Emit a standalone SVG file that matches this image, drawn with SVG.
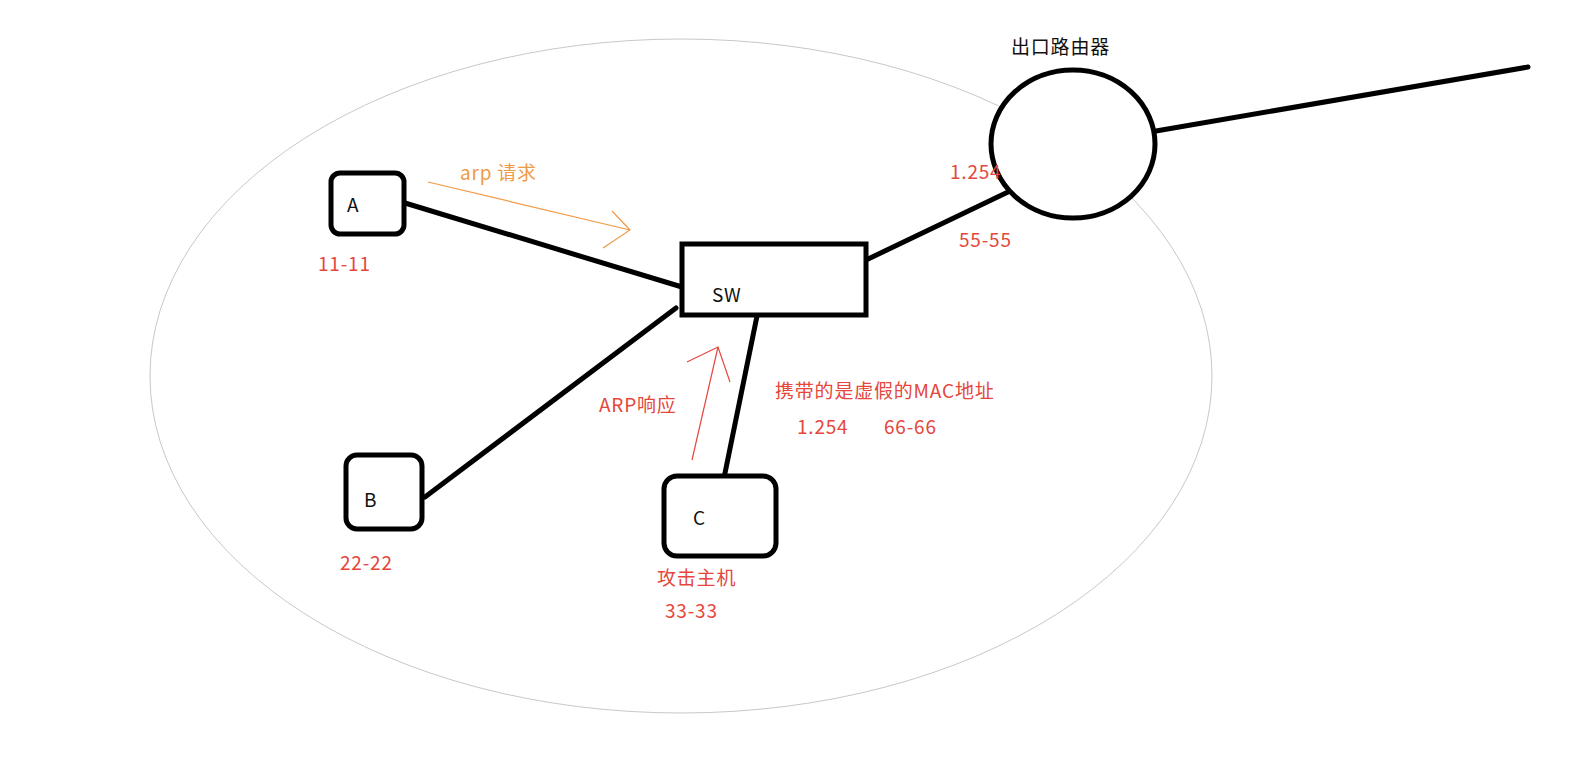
<svg xmlns="http://www.w3.org/2000/svg" width="1570" height="766" viewBox="0 0 1570 766">
<style>
text{font-family:"Noto Sans CJK SC","Liberation Sans",sans-serif;letter-spacing:0.8px}
.node{fill:#fff;stroke:#000;stroke-width:5}
.lbl{font-size:19px;fill:#111}
.red{font-size:19px;fill:#e5473c}
.org{font-size:19px;fill:#ef9a45}
.link{stroke:#000;stroke-width:5;stroke-linecap:round;fill:none}
</style>
<rect width="1570" height="766" fill="#fff"/>
<ellipse id="lan" cx="681" cy="376" rx="531" ry="337" fill="none" stroke="#c8c8c8" stroke-width="1"/>
<g id="connectors">
<line class="link" x1="405" y1="203" x2="682" y2="287"/>
<line class="link" x1="676" y1="308" x2="425" y2="497"/>
<line class="link" x1="757" y1="316" x2="724" y2="478"/>
<line class="link" x1="866" y1="260" x2="1008" y2="192"/>
<line class="link" x1="1156" y1="131" x2="1528" y2="67"/>
<g id="arp-request" stroke="#ef9a45" stroke-width="1.2" fill="none">
<line x1="428" y1="182" x2="630" y2="230"/>
<polyline points="612,211 630,230 603,248"/>
</g>
<g id="arp-reply" stroke="#e5473c" stroke-width="1.2" fill="none">
<line x1="692" y1="460" x2="718" y2="347"/>
<polyline points="687,362 718,347 730,382"/>
</g>
</g>
<g id="A">
<rect class="node" x="331" y="173" width="73" height="61" rx="9"/>
<text class="lbl" x="347" y="212">A</text>
<text class="red" x="318" y="271">11-11</text>
</g>
<g id="B">
<rect class="node" x="346" y="455" width="76" height="74" rx="11"/>
<text class="lbl" x="364" y="507">B</text>
<text class="red" x="340" y="570">22-22</text>
</g>
<g id="C">
<rect class="node" x="664" y="476" width="112" height="80" rx="13"/>
<text class="lbl" x="693" y="525">C</text>
<text class="red" x="657" y="585">攻击主机</text>
<text class="red" x="665" y="618">33-33</text>
</g>
<g id="SW">
<rect class="node" x="682" y="244" width="184" height="71"/>
<text class="lbl" x="712" y="302">SW</text>
</g>
<g id="router">
<ellipse class="node" cx="1073" cy="144" rx="82" ry="74"/>
<text class="lbl" x="1011" y="54">出口路由器</text>
<text class="red" x="950" y="179">1.254</text>
<text class="red" x="959" y="247">55-55</text>
</g>
<g id="labels">
<text class="org" x="460" y="180">arp 请求</text>
<text class="red" x="599" y="412">ARP响应</text>
<text class="red" x="775" y="398">携带的是虚假的MAC地址</text>
<text class="red" x="797" y="434">1.254</text>
<text class="red" x="884" y="434">66-66</text>
</g>
</svg>
